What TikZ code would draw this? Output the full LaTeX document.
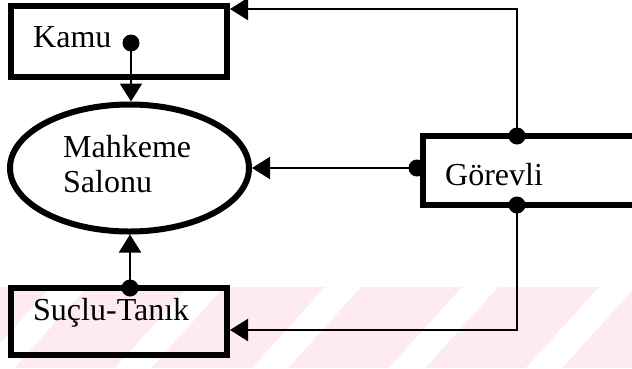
\documentclass[tikz,border=0pt]{standalone}
\usepackage{fontspec}
\setmainfont{Liberation Serif}
\usetikzlibrary{arrows.meta,shapes.geometric}
\definecolor{wm}{RGB}{253,235,239}
\tikzset{
  box/.style={draw, line width=6pt, rectangle, inner sep=0pt, fill=none},
  txt/.style={inner sep=0pt, font=\fontsize{32}{35}\selectfont, anchor=base west},
  dot/.style={circle, fill=black, inner sep=0pt, minimum size=17pt},
  conn/.style={line width=2.2pt, -{Triangle[length=18pt,width=22pt]}}
}
\begin{document}
\begin{tikzpicture}[x=1pt,y=-1pt]
\useasboundingbox (0,0) rectangle (632,368);
\clip (0,0) rectangle (632,368);
% watermark stripes
\fill[wm] (0,287) rectangle (632,368);
\foreach \g in {51,188,325,462,599}{
  \fill[white] (\g,287) -- (\g+36,287) -- (\g-37,368) -- (\g-73,368) -- cycle;
}
% boxes
\node[box, minimum width=216pt, minimum height=71pt] (kamu) at (119,41.5) {};
\node[box, minimum width=216pt, minimum height=67pt] (suclu) at (119,321.5) {};
\node[box, minimum width=237pt, minimum height=69pt] (gorevli) at (541.5,170.5) {};
\node[draw, ellipse, line width=6pt, inner sep=0pt, minimum width=239pt, minimum height=127pt] (mahkeme) at (129.5,168) {};
% texts
\node[txt] (kamutext) at (33,47) {Kamu};
\node[txt] (gortext) at (445,185) {Görevli};
\node[txt] (suclutext) at (33,320) {Suçlu-Tanık};
\node[txt, align=left] (mahktext) at (63,192) {Mahkeme\\Salonu};
% dots
\coordinate (kdc) at (131,43);
\coordinate (gwc) at (gorevli.west |- 0,168);
\coordinate (gnc) at (517,136);
\coordinate (gsc) at (517,205);
\coordinate (sdc) at (130,288);
% connectors
\draw[conn] (kdc) -- (kdc |- mahkeme.north);
\draw[conn] (sdc) -- (sdc |- mahkeme.south);
\draw[conn] (gwc) -- (mahkeme.east);
\draw[conn] (gnc) |- ([yshift=-6pt]kamu.north east);
\draw[conn] (gsc) |- ([yshift=-8.5pt]suclu.east);
\node[dot] (kd) at (kdc) {};
\node[dot] (gw) at ([xshift=-3pt]gwc) {};
\node[dot] (gn) at (gnc) {};
\node[dot] (gs) at (gsc) {};
\node[dot] (sd) at (sdc) {};
\end{tikzpicture}
\end{document}
